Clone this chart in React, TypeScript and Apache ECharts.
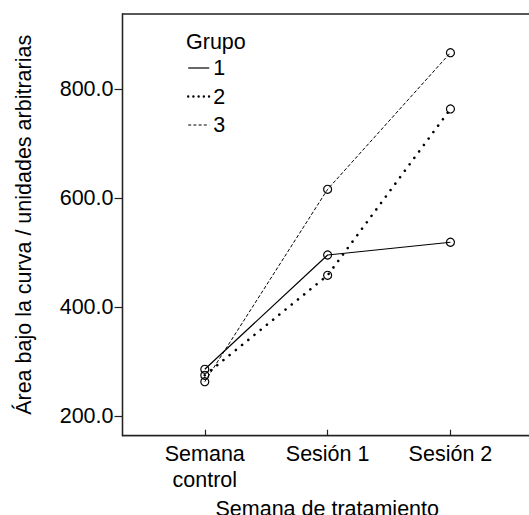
import React, { useEffect, useRef } from "react";
import * as echarts from "echarts";

const categories = ["Semana\ncontrol", "Sesión 1", "Sesión 2"];
const categoryPositions = [1, 2, 3];
const grupo1 = [285.4, 495.4, 518.8];
const grupo2 = [274.4, 458.1, 763.7];
const grupo3 = [262.6, 616.1, 867.1];
const yTicks = [200, 400, 600, 800];
const groupNames = ["1", "2", "3"];

const FONT = "'Liberation Sans', Arial, sans-serif";
const FS = 21.5;

export default function App() {
  const ref = useRef<HTMLDivElement>(null);
  useEffect(() => {
    if (!ref.current) return;
    const chart = echarts.init(ref.current, null, { renderer: "svg" });
    const toData = (vals: number[]) => vals.map((v, i) => [categoryPositions[i], v]);
    const symbolStyle = {
      color: "rgba(0,0,0,0)",
      borderColor: "#000",
      borderWidth: 1.2,
    };
    const lineStyles = [
      { color: "#000", width: 1.2, type: "solid" },
      { color: "#000", width: 2.6, type: [0.01, 8], cap: "round" },
      { color: "#000", width: 1, type: [3.5, 2] },
    ];
    const legendLineStyles = [
      { color: "#000", width: 1.2, type: "solid" },
      { color: "#000", width: 2.4, type: [0.01, 5.2], cap: "round" },
      { color: "#000", width: 1, type: [3, 2.2] },
    ];
    chart.setOption({
      animation: false,
      backgroundColor: "#fff",
      textStyle: { fontFamily: FONT },
      title: {
        text: "Grupo",
        left: 186,
        top: 31,
        padding: 0,
        textStyle: { fontSize: FS, fontWeight: "normal", color: "#000", fontFamily: FONT },
      },
      legend: {
        orient: "vertical",
        left: 187,
        top: 57,
        padding: 0,
        itemWidth: 21,
        itemHeight: 14,
        itemGap: 6.5,
        itemStyle: { opacity: 0 },
        textStyle: { fontSize: FS, color: "#000", fontFamily: FONT, lineHeight: 22, padding: [0, 0, 0, -1] },
        data: groupNames.map((n, i) => ({
          name: n,
          itemStyle: { opacity: 0 },
          lineStyle: legendLineStyles[i],
        })),
      },
      grid: {
        left: 122.5,
        right: -3,
        top: 14,
        bottom: 79.3,
        show: true,
        borderColor: "#222",
        borderWidth: 1.3,
        containLabel: false,
        outerBoundsMode: "none",
      },
      xAxis: {
        type: "value",
        min: 0.33,
        max: 3.664,
        name: "Semana de tratamiento",
        nameLocation: "middle",
        nameGap: 62,
        nameTextStyle: { fontSize: FS, color: "#000", fontFamily: FONT },
        splitLine: { show: false },
        axisLine: { show: true, lineStyle: { color: "#222", width: 1.3 } },
        axisTick: {
          show: true,
          inside: true,
          length: 6,
          customValues: categoryPositions,
          lineStyle: { color: "#222", width: 1.2 },
        },
        axisLabel: {
          customValues: categoryPositions,
          fontSize: FS,
          color: "#000",
          fontFamily: FONT,
          lineHeight: 26,
          margin: 5,
          formatter: (v: number) => {
            const idx = categoryPositions.indexOf(Math.round(v));
            return idx >= 0 ? categories[idx] : "";
          },
        },
      },
      yAxis: {
        type: "value",
        min: 163.4,
        max: 938.2,
        name: "Área bajo la curva / unidades arbitrarias",
        nameLocation: "middle",
        nameGap: 88,
        nameTextStyle: { fontSize: FS, color: "#000", fontFamily: FONT },
        splitLine: { show: false },
        axisLine: { show: true, lineStyle: { color: "#222", width: 1.3 } },
        axisTick: {
          show: true,
          length: 8,
          customValues: yTicks,
          lineStyle: { color: "#222", width: 1.2 },
        },
        axisLabel: {
          customValues: yTicks,
          fontSize: FS,
          color: "#000",
          fontFamily: FONT,
          margin: 9,
          formatter: (v: number) => v.toFixed(1),
        },
      },
      series: [
        {
          name: groupNames[0],
          type: "line",
          data: toData(grupo1),
          symbol: "circle",
          symbolSize: 8,
          itemStyle: symbolStyle,
          lineStyle: lineStyles[0],
          z: 3,
        },
        {
          name: groupNames[1],
          type: "line",
          data: toData(grupo2),
          symbol: "circle",
          symbolSize: 8,
          itemStyle: symbolStyle,
          lineStyle: lineStyles[1],
          z: 2,
        },
        {
          name: groupNames[2],
          type: "line",
          data: toData(grupo3),
          symbol: "circle",
          symbolSize: 8,
          itemStyle: symbolStyle,
          lineStyle: lineStyles[2],
          z: 2,
        },
      ],
    });
    return () => chart.dispose();
  }, []);
  return (
    <div
      ref={ref}
      style={{ position: "fixed", left: 0, top: 0, width: 529, height: 515, background: "#fff" }}
    />
  );
}
